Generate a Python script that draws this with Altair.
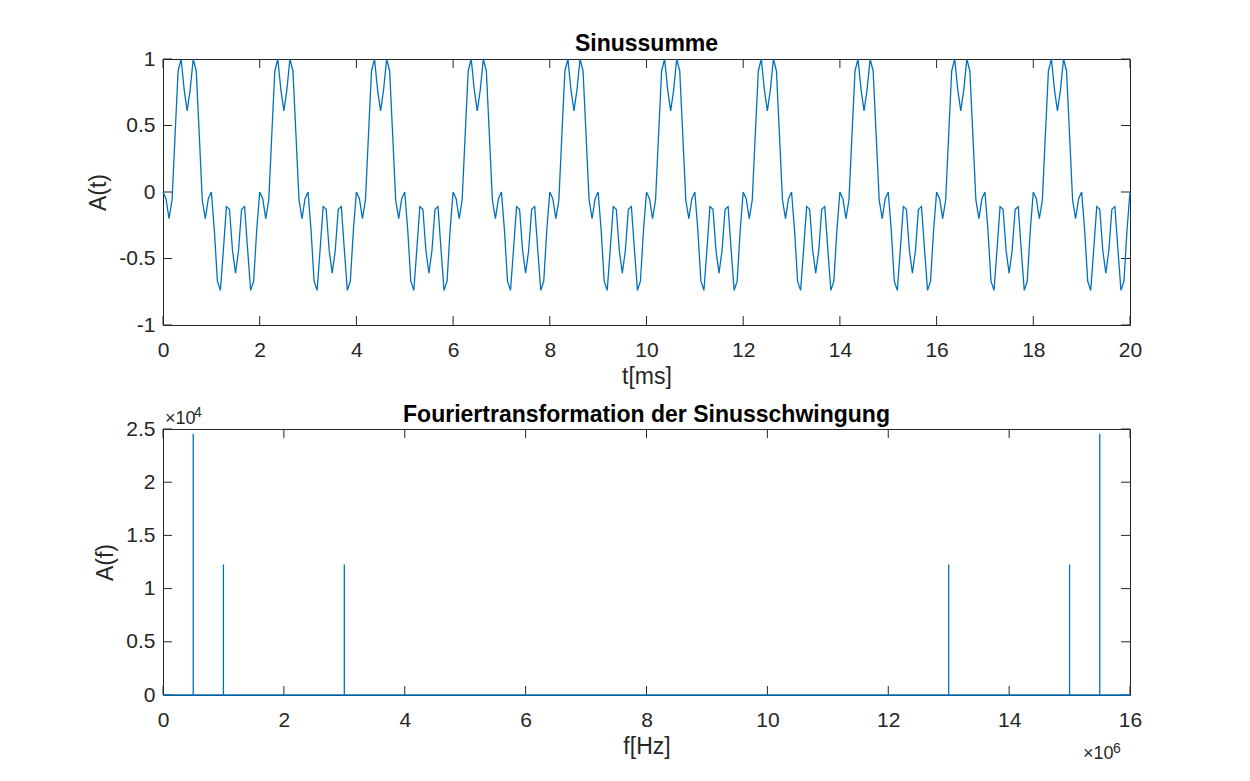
import altair as alt
import pandas as pd

# ---------------- data ----------------
# Sampled sum of sines, A(t), 16 samples per ms, 0 .. 20 ms
amplitude = [
    0.00, -0.05, -0.20, -0.06, 0.43, 0.91, 1.00, 0.77, 0.61, 0.77, 1.00, 0.91, 0.43, -0.06, -0.20, -0.05,
    0.00, -0.29, -0.67, -0.74, -0.43, -0.11, -0.13, -0.44, -0.61, -0.44, -0.13, -0.11, -0.43, -0.74, -0.67, -0.29,
    0.00, -0.05, -0.20, -0.06, 0.43, 0.91, 1.00, 0.77, 0.61, 0.77, 1.00, 0.91, 0.43, -0.06, -0.20, -0.05,
    0.00, -0.29, -0.67, -0.74, -0.43, -0.11, -0.13, -0.44, -0.61, -0.44, -0.13, -0.11, -0.43, -0.74, -0.67, -0.29,
    0.00, -0.05, -0.20, -0.06, 0.43, 0.91, 1.00, 0.77, 0.61, 0.77, 1.00, 0.91, 0.43, -0.06, -0.20, -0.05,
    0.00, -0.29, -0.67, -0.74, -0.43, -0.11, -0.13, -0.44, -0.61, -0.44, -0.13, -0.11, -0.43, -0.74, -0.67, -0.29,
    0.00, -0.05, -0.20, -0.06, 0.43, 0.91, 1.00, 0.77, 0.61, 0.77, 1.00, 0.91, 0.43, -0.06, -0.20, -0.05,
    0.00, -0.29, -0.67, -0.74, -0.43, -0.11, -0.13, -0.44, -0.61, -0.44, -0.13, -0.11, -0.43, -0.74, -0.67, -0.29,
    0.00, -0.05, -0.20, -0.06, 0.43, 0.91, 1.00, 0.77, 0.61, 0.77, 1.00, 0.91, 0.43, -0.06, -0.20, -0.05,
    0.00, -0.29, -0.67, -0.74, -0.43, -0.11, -0.13, -0.44, -0.61, -0.44, -0.13, -0.11, -0.43, -0.74, -0.67, -0.29,
    0.00, -0.05, -0.20, -0.06, 0.43, 0.91, 1.00, 0.77, 0.61, 0.77, 1.00, 0.91, 0.43, -0.06, -0.20, -0.05,
    0.00, -0.29, -0.67, -0.74, -0.43, -0.11, -0.13, -0.44, -0.61, -0.44, -0.13, -0.11, -0.43, -0.74, -0.67, -0.29,
    0.00, -0.05, -0.20, -0.06, 0.43, 0.91, 1.00, 0.77, 0.61, 0.77, 1.00, 0.91, 0.43, -0.06, -0.20, -0.05,
    0.00, -0.29, -0.67, -0.74, -0.43, -0.11, -0.13, -0.44, -0.61, -0.44, -0.13, -0.11, -0.43, -0.74, -0.67, -0.29,
    0.00, -0.05, -0.20, -0.06, 0.43, 0.91, 1.00, 0.77, 0.61, 0.77, 1.00, 0.91, 0.43, -0.06, -0.20, -0.05,
    0.00, -0.29, -0.67, -0.74, -0.43, -0.11, -0.13, -0.44, -0.61, -0.44, -0.13, -0.11, -0.43, -0.74, -0.67, -0.29,
    0.00, -0.05, -0.20, -0.06, 0.43, 0.91, 1.00, 0.77, 0.61, 0.77, 1.00, 0.91, 0.43, -0.06, -0.20, -0.05,
    0.00, -0.29, -0.67, -0.74, -0.43, -0.11, -0.13, -0.44, -0.61, -0.44, -0.13, -0.11, -0.43, -0.74, -0.67, -0.29,
    0.00, -0.05, -0.20, -0.06, 0.43, 0.91, 1.00, 0.77, 0.61, 0.77, 1.00, 0.91, 0.43, -0.06, -0.20, -0.05,
    0.00, -0.29, -0.67, -0.74, -0.43, -0.11, -0.13, -0.44, -0.61, -0.44, -0.13, -0.11, -0.43, -0.74, -0.67, -0.29,
    0.00,
]
samples_per_ms = 16
t_ms = [i / samples_per_ms for i in range(len(amplitude))]

# Spectrum: spike frequencies (Hz) and magnitudes, rest of the bins ~ 0
spike_freq = [0.5e6, 1.0e6, 3.0e6, 13.0e6, 15.0e6, 15.5e6]
spike_amp = [24550, 12260, 12260, 12260, 12260, 24550]
f_start, f_end = 0.0, 16e6

# Axis ticks
top_x_ticks = [0, 2, 4, 6, 8, 10, 12, 14, 16, 18, 20]
top_y_ticks = [-1, -0.5, 0, 0.5, 1]
bot_x_ticks = [0, 2e6, 4e6, 6e6, 8e6, 10e6, 12e6, 14e6, 16e6]
bot_y_ticks = [0, 5000, 10000, 15000, 20000, 25000]

# ---------------- styling ----------------
FONT = "Liberation Sans"
AX = "#262626"
BLUE = "#0072BD"
W, H = 967, 266
TL = 9  # inner tick length

def make_axis(title, values, expr, orient):
    is_x = orient == "bottom"
    return alt.Axis(
        title=title, values=values, labelExpr=expr, orient=orient,
        ticks=False, tickSize=0, domain=False, grid=False,
        labelPadding=14 if is_x else 8, labelFontSize=21, labelFont=FONT,
        labelColor=AX, labelFlush=False, labelOverlap=False,
        titleFont=FONT, titleFontSize=23, titleFontWeight="normal",
        titleColor=AX, titlePadding=5 if is_x else 8,
    )

def inner_ticks(xvals, yvals, xf, yf, xs, ys, xa, ya):
    xdf = pd.DataFrame({xf: xvals})
    ydf = pd.DataFrame({yf: yvals})
    r = dict(color=AX, strokeWidth=1)
    xb = alt.Chart(xdf).mark_rule(**r).encode(
        x=alt.X(f"{xf}:Q", scale=xs, axis=xa), y=alt.value(H), y2=alt.value(H - TL))
    xt = alt.Chart(xdf).mark_rule(**r).encode(
        x=alt.X(f"{xf}:Q", scale=xs, axis=xa), y=alt.value(0), y2=alt.value(TL))
    yl = alt.Chart(ydf).mark_rule(**r).encode(
        y=alt.Y(f"{yf}:Q", scale=ys, axis=ya), x=alt.value(0), x2=alt.value(TL))
    yr = alt.Chart(ydf).mark_rule(**r).encode(
        y=alt.Y(f"{yf}:Q", scale=ys, axis=ya), x=alt.value(W), x2=alt.value(W - TL))
    return [xb, xt, yl, yr]

def title_params(text, offset):
    return alt.TitleParams(text=text, font=FONT, fontSize=23, fontWeight="bold",
                           color="black", offset=offset, anchor="middle")

# ---------------- top: time signal ----------------
xs1 = alt.Scale(domain=[0, 20], nice=False, zero=False)
ys1 = alt.Scale(domain=[-1, 1], nice=False, zero=False)
xa1 = make_axis("t[ms]", top_x_ticks, "'' + datum.value", "bottom")
ya1 = make_axis("A(t)", top_y_ticks, "'' + datum.value", "left")
sig = pd.DataFrame({"t": t_ms, "A": amplitude})
line1 = alt.Chart(sig).mark_line(color=BLUE, strokeWidth=1.3).encode(
    x=alt.X("t:Q", scale=xs1, axis=xa1),
    y=alt.Y("A:Q", scale=ys1, axis=ya1),
)
top = alt.layer(*inner_ticks(top_x_ticks, top_y_ticks, "t", "A", xs1, ys1, xa1, ya1), line1).properties(
    width=W, height=H, title=title_params("Sinussumme", -8))

# ---------------- bottom: spectrum ----------------
xs2 = alt.Scale(domain=[0, 16e6], nice=False, zero=False)
ys2 = alt.Scale(domain=[0, 25000], nice=False, zero=False)
xa2 = make_axis("f[Hz]", bot_x_ticks, "'' + datum.value / 1000000", "bottom")
ya2 = make_axis("A(f)", bot_y_ticks, "'' + datum.value / 10000", "left")
fpts, apts = [f_start], [0.0]
for f, a in zip(spike_freq, spike_amp):
    fpts += [f, f, f]
    apts += [0.0, a, 0.0]
fpts.append(f_end)
apts.append(0.0)
spec = pd.DataFrame({"f": fpts, "Af": apts, "o": list(range(len(fpts)))})
line2 = alt.Chart(spec).mark_line(color=BLUE, strokeWidth=1.3).encode(
    x=alt.X("f:Q", scale=xs2, axis=xa2),
    y=alt.Y("Af:Q", scale=ys2, axis=ya2),
    order="o:Q",
)

def txt(s, x, y, size, align="left"):
    return alt.Chart(pd.DataFrame({"s": [s]})).mark_text(
        align=align, baseline="alphabetic", font=FONT, fontSize=size, color=AX
    ).encode(x=alt.value(x), y=alt.value(y), text="s:N")

exp_texts = [
    txt("×10", 2, -5, 18), txt("4", 31, -12, 14),
    txt("×10", 920, H + 64, 18), txt("6", 950, H + 58, 14),
]
bottom = alt.layer(*inner_ticks(bot_x_ticks, bot_y_ticks, "f", "Af", xs2, ys2, xa2, ya2), line2, *exp_texts).properties(
    width=W, height=H, title=title_params("Fouriertransformation der Sinusschwingung", -21))

chart = alt.vconcat(top, bottom, spacing=104, bounds="flush").properties(
    padding={"left": 79, "top": 24, "right": 10, "bottom": 5},
    background="white",
).configure_view(stroke=AX, strokeWidth=1)

chart.save("out.html", embed_options={"renderer": "svg", "actions": False})
